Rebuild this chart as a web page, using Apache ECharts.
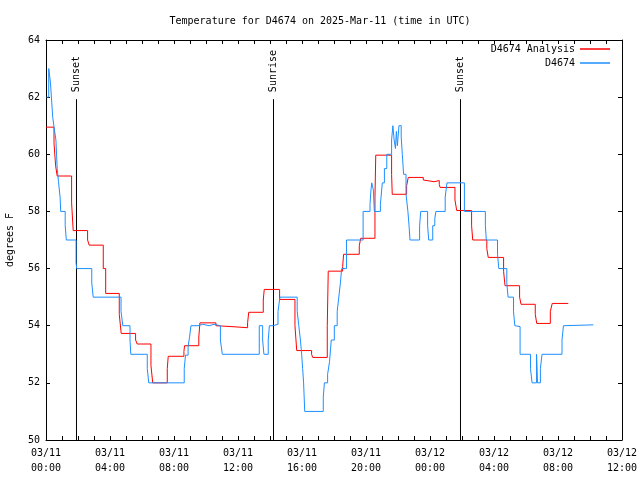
<!DOCTYPE html>
<html>
<head>
<meta charset="utf-8">
<script src="https://cdn.jsdelivr.net/npm/echarts@6/dist/echarts.min.js"></script>
<style>html,body{margin:0;padding:0;background:#fff}#c{width:640px;height:480px}</style>
</head>
<body>
<div id="c"></div>
<script>
// Hours since 2025-03-11 00:00 UTC
var obsHours = [0.03,0.17,0.28,0.36,0.42,0.5,0.62,0.7,0.78,0.88,0.92,1.2,1.27,1.88,1.92,2.86,2.95,4.69,4.8,5.25,5.3,6.33,6.42,8.64,8.72,8.88,8.97,9.06,9.5,9.8,10.2,10.5,10.9,11.02,13.33,13.54,13.62,13.89,13.96,14.2,14.5,14.62,15.7,15.8,15.9,15.98,16.04,16.1,16.17,17.33,17.4,17.6,17.72,17.83,18.02,18.2,18.3,18.4,18.48,18.78,19.82,20.25,20.31,20.36,20.46,20.52,20.9,20.98,21.02,21.15,21.3,21.6,21.68,21.76,21.84,21.9,21.96,22.06,22.2,22.27,22.35,22.5,22.62,22.69,22.75,23.35,23.42,23.85,23.92,24.17,24.3,24.37,24.95,25.06,26.15,27.46,27.52,28.22,28.3,28.8,28.88,29.22,29.3,29.4,29.63,30.28,30.38,30.66,30.72,30.9,31.0,32.25,32.34,32.45,34.21];
var obsTemps = [62.0,63.0,62.5,61.8,61.3,60.96,60.5,59.5,59.05,58.5,58.0,57.5,57.0,56.2,56.0,55.5,55.0,54.5,54.0,53.5,53.0,52.5,52.0,52.5,52.97,53.26,53.6,54.0,54.05,54.0,54.05,54.0,53.5,53.0,54.0,53.5,53.0,53.5,54.0,54.05,54.5,55.0,54.5,54.0,53.5,53.0,52.5,52.0,51.0,51.5,52.0,52.3,52.74,53.5,54.0,54.5,55.0,55.5,56.0,57.0,58.0,58.25,58.75,59.0,58.75,58.0,58.25,58.75,59.0,59.5,60.0,60.5,61.0,60.5,60.2,60.8,60.3,61.0,60.6,60.0,59.3,58.6,58.0,57.5,57.0,57.5,58.0,57.5,57.0,57.5,57.75,58.0,58.5,59.0,58.0,57.5,57.0,56.5,56.0,55.5,55.0,54.5,54.0,53.97,53.0,52.5,52.0,53.0,52.0,52.5,53.0,53.5,54.0,54.03,54.03];
var anaHours = [0.0,0.5,0.6,0.7,1.6,1.7,2.6,2.7,3.58,3.73,4.58,4.7,5.6,5.7,6.56,6.67,7.58,7.64,8.62,8.66,9.55,9.62,10.62,10.68,11.56,12.6,12.67,13.58,13.64,14.6,15.56,15.67,16.6,16.67,17.58,17.64,18.54,18.6,19.58,19.67,20.56,20.61,21.6,21.64,22.54,22.64,23.58,23.64,24.25,24.58,24.63,25.56,25.67,26.6,26.67,27.55,27.64,28.6,28.69,29.6,29.69,30.58,30.67,31.52,31.64,32.64];
var anaTemps = [60.95,60.4,59.6,59.24,58.3,57.33,57.0,56.82,56.0,55.13,54.4,53.73,53.5,53.36,52.6,52.0,52.5,52.93,53.1,53.3,53.6,54.1,54.0,53.97,53.93,54.1,54.47,54.9,55.27,54.92,54.0,53.13,53.0,52.89,54.0,55.91,56.07,56.5,56.8,57.06,58.5,59.97,59.3,58.6,58.9,59.19,59.1,59.04,59.08,58.95,58.84,58.4,58.03,57.5,57.0,56.7,56.39,55.9,55.4,55.0,54.75,54.4,54.08,54.5,54.78,54.78];
var sunHours = [1.906, 14.219, 25.906];
var sunNames = ['Sunset', 'Sunrise', 'Sunset'];
var sunLineTop = 61.93;
var yTicks = [50, 52, 54, 56, 58, 60, 62, 64];

var FONT = 'DejaVu Sans Mono';
function zip(a, b) { return a.map(function (v, i) { return [v, b[i]]; }); }
function pad(n) { return (n < 10 ? '0' : '') + n; }
function fmtTime(h) {
  var day = 11 + Math.floor(h / 24);
  var hh = Math.round(h % 24);
  return '03/' + pad(day) + '\n' + pad(hh) + ':00';
}

var sunSeries = sunHours.map(function (t, i) {
  return {
    type: 'line', name: sunNames[i] + i, silent: true,
    xAxisIndex: 0, yAxisIndex: 0,
    data: [[t, 50], {value: [t, sunLineTop], label: {show: true}}],
    showSymbol: true, symbol: 'circle', symbolSize: 0,
    itemStyle: {color: '#000'},
    lineStyle: {color: '#000', width: 1},
    label: {show: false, formatter: sunNames[i], rotate: 90, position: 'top', distance: 7,
      align: 'left', verticalAlign: 'middle', fontFamily: FONT, fontSize: 10, color: '#000'},
    z: 1
  };
});

var axisCommonX = {
  type: 'value', min: 0, max: 36, interval: 4,
  axisLine: {show: true, onZero: false, lineStyle: {color: '#000', width: 1}},
  axisTick: {show: true, inside: true, length: 4, lineStyle: {color: '#000'}},
  minorTick: {show: true, splitNumber: 4, length: 4, lineStyle: {color: '#000'}},
  splitLine: {show: false}
};
var axisCommonY = {
  type: 'value', min: 50, max: 64, interval: 2,
  axisLine: {show: true, onZero: false, lineStyle: {color: '#000', width: 1}},
  axisTick: {show: true, inside: true, length: 4, lineStyle: {color: '#000'}},
  splitLine: {show: false}
};

var chart = echarts.init(document.getElementById('c'), null, {renderer: 'canvas'});
chart.setOption({
  animation: false,
  backgroundColor: '#fff',
  title: {
    text: 'Temperature for D4674 on 2025-Mar-11 (time in UTC)',
    left: 'center', top: 11,
    textStyle: {fontFamily: FONT, fontSize: 10, fontWeight: 'normal', color: '#000'}
  },
  legend: [
    {data: ['D4674 Analysis'], right: 30, top: 44, orient: 'vertical', align: 'right',
      itemWidth: 30, itemHeight: 10, padding: 0, itemGap: 4,
      icon: 'path://M0,0 L30,0 L30,1.5 L0,1.5 Z',
      textStyle: {fontFamily: FONT, fontSize: 10, color: '#000'}},
    {data: ['D4674'], right: 30, top: 58, orient: 'vertical', align: 'right',
      itemWidth: 30, itemHeight: 10, padding: 0, itemGap: 4,
      icon: 'path://M0,0 L30,0 L30,1.5 L0,1.5 Z',
      textStyle: {fontFamily: FONT, fontSize: 10, color: '#000'}}
  ],
  grid: {left: 46, right: 18, top: 40, bottom: 40, containLabel: false, outerBoundsMode: 'none'},
  xAxis: [
    Object.assign({}, axisCommonX, {position: 'bottom',
      axisLabel: {show: true, margin: 6, lineHeight: 15, fontFamily: FONT, fontSize: 10, color: '#000',
        formatter: fmtTime}}),
    Object.assign({}, axisCommonX, {position: 'top', axisLabel: {show: false}})
  ],
  yAxis: [
    Object.assign({}, axisCommonY, {position: 'left', name: 'degrees F', nameLocation: 'middle', nameGap: 31,
      nameTextStyle: {fontFamily: FONT, fontSize: 10, color: '#000'},
      axisLabel: {show: true, margin: 6, fontFamily: FONT, fontSize: 10, color: '#000',
        formatter: function (v) { return yTicks.indexOf(v) >= 0 ? String(v) : ''; }}}),
    Object.assign({}, axisCommonY, {position: 'right', axisLabel: {show: false}})
  ],
  series: [
    {type: 'line', name: 'D4674 Analysis', step: 'end', data: zip(anaHours, anaTemps),
      showSymbol: false, lineStyle: {color: '#ff0000', width: 1}, itemStyle: {color: '#ff0000'}, z: 3},
    {type: 'line', name: 'D4674', step: 'end', data: zip(obsHours, obsTemps),
      showSymbol: false, lineStyle: {color: '#1e8fff', width: 1}, itemStyle: {color: '#1e8fff'}, z: 4}
  ].concat(sunSeries)
});
</script>
</body>
</html>
